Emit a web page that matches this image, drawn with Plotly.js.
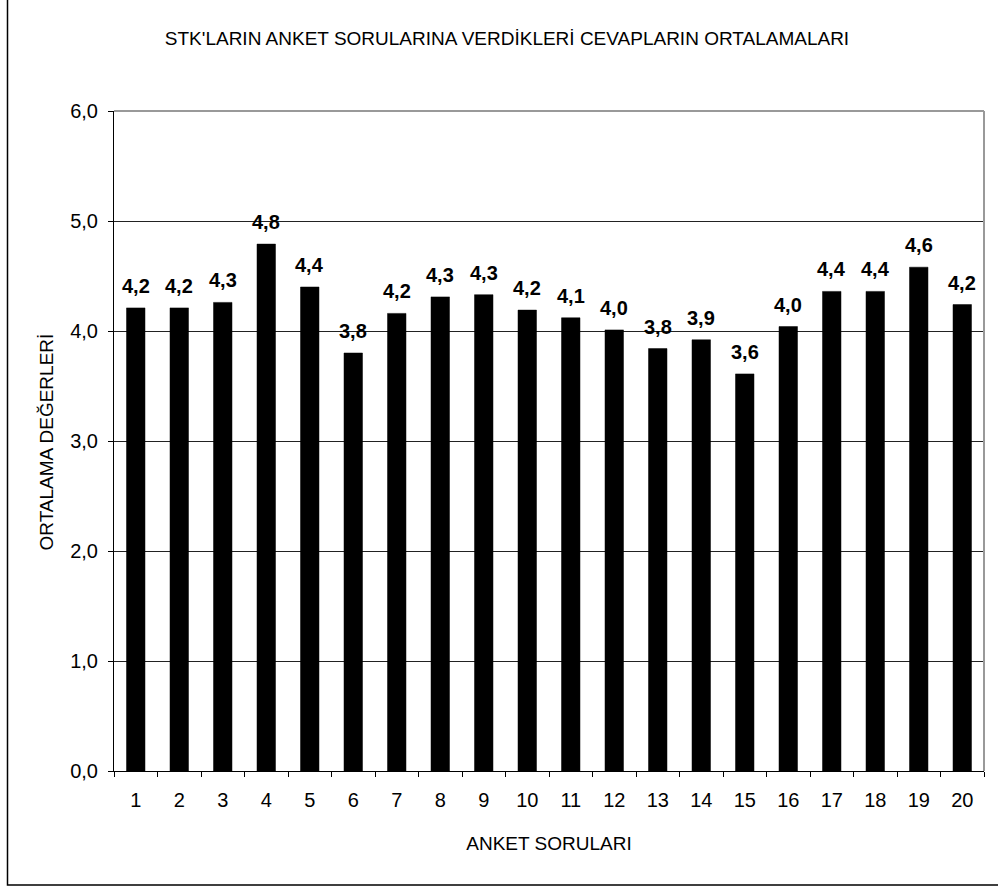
<!DOCTYPE html>
<html>
<head>
<meta charset="utf-8">
<script src="https://cdn.plot.ly/plotly-3.0.1.min.js"></script>
<style>html,body{margin:0;padding:0;background:#fff;}#chart{width:998px;height:886px;}</style>
</head>
<body>
<div id="chart"></div>
<script>
const categories = ['1','2','3','4','5','6','7','8','9','10','11','12','13','14','15','16','17','18','19','20'];
const values = [4.21, 4.21, 4.26, 4.79, 4.40, 3.80, 4.16, 4.31, 4.33, 4.19, 4.12, 4.01, 3.84, 3.92, 3.61, 4.04, 4.36, 4.36, 4.58, 4.24];
const yTickVals = [0, 1, 2, 3, 4, 5, 6];
const yTickText = ['0,0', '1,0', '2,0', '3,0', '4,0', '5,0', '6,0'];
const titleText = "STK'LARIN ANKET SORULARINA VERDİKLERİ CEVAPLARIN ORTALAMALARI";
const xTitle = 'ANKET SORULARI';
const yTitle = 'ORTALAMA DEĞERLERİ';

const fontFam = 'Liberation Sans, Arial, sans-serif';

const labelAnnotations = categories.map((c, i) => ({
  x: i, y: values[i], xref: 'x', yref: 'y',
  text: values[i].toFixed(1).replace('.', ','),
  showarrow: false, yanchor: 'bottom', xanchor: 'center', yshift: 9,
  font: {family: fontFam, size: 20, color: '#000', weight: 'bold'}
}));

const trace = {
  type: 'bar', x: categories, y: values,
  marker: {color: '#000', line: {color: '#000', width: 0.5}},
  hoverinfo: 'skip'
};

const layout = {
  width: 998, height: 886,
  margin: {l: 114, r: 14, t: 111, b: 115},
  paper_bgcolor: '#fff', plot_bgcolor: '#fff',
  showlegend: false,
  bargap: 0.575,
  font: {family: fontFam, size: 19, color: '#000'},
  title: {text: titleText, x: 507/998, xref: 'container', xanchor: 'center', y: 1 - 38/886, yanchor: 'middle',
          font: {family: fontFam, size: 19, color: '#000'}},
  xaxis: {
    type: 'category', tickson: 'boundaries', ticks: 'outside', ticklen: 5, tickcolor: '#000',
    range: [-0.5, 19.5],
    showline: true, linecolor: '#000', linewidth: 1, showgrid: false,
    ticklabelstandoff: 11,
    tickfont: {family: fontFam, size: 20, color: '#000'},
    title: {text: xTitle, standoff: 26, font: {family: fontFam, size: 19, color: '#000'}}
  },
  yaxis: {
    range: [0, 6], tickvals: yTickVals, ticktext: yTickText,
    ticks: 'outside', ticklen: 5, tickcolor: '#000',
    showline: true, linecolor: '#000', linewidth: 1,
    ticklabelstandoff: 6,
    showgrid: true, gridcolor: '#222', gridwidth: 1, zeroline: false,
    tickfont: {family: fontFam, size: 20, color: '#000'}
  },
  shapes: [
    {type: 'line', xref: 'paper', yref: 'paper', x0: 0, x1: 1, y0: 1, y1: 1, line: {color: '#999', width: 2}},
    {type: 'line', xref: 'paper', yref: 'paper', x0: 1, x1: 1, y0: 0, y1: 1, line: {color: '#999', width: 2}},
    {type: 'rect', xref: 'paper', yref: 'paper', x0: (7.5-114)/870, x1: (1010-114)/870,
     y0: (771-885)/660, y1: (771+5)/660, line: {color: '#000', width: 1.5}, fillcolor: 'rgba(0,0,0,0)'}
  ],
  annotations: labelAnnotations.concat([
    {text: yTitle, textangle: -90, xref: 'paper', yref: 'paper', x: (46-114)/870, y: (771-553)/660,
     xanchor: 'center', yanchor: 'bottom', showarrow: false,
     font: {family: fontFam, size: 19, color: '#000'}}
  ])
};

Plotly.newPlot('chart', [trace], layout, {displayModeBar: false, staticPlot: true});
</script>
</body>
</html>
